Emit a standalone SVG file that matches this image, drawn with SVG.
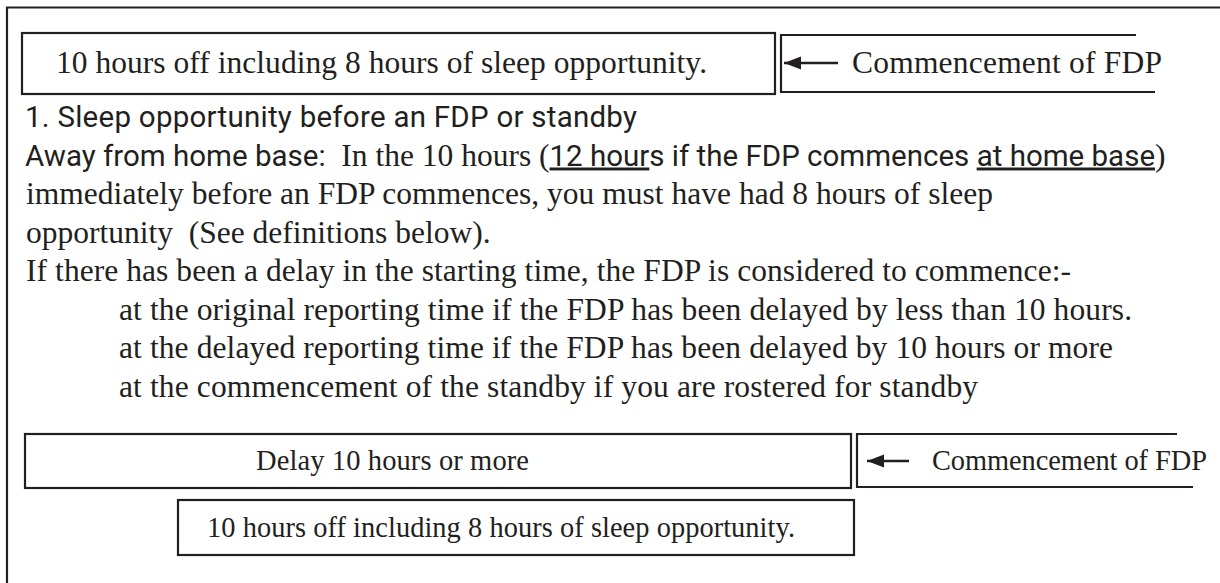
<svg xmlns="http://www.w3.org/2000/svg" width="1220" height="583" viewBox="0 0 1220 583">
<style>
.ln{stroke:#231f20;stroke-width:2.2;fill:none}
.box{stroke:#231f20;stroke-width:2.2;fill:#ffffff}
.arr{stroke:#231f20;stroke-width:2.6;fill:none}
.sf{font-family:"Liberation Serif","Times New Roman",serif;fill:#231f20}
.ss{font-family:Roboto,"Liberation Sans",sans-serif;fill:#231f20}
.p{font-size:31.5px}
.u{text-decoration:underline}
</style>
<defs>
<marker id="ah" markerWidth="18" markerHeight="14" refX="17" refY="7" orient="auto" markerUnits="userSpaceOnUse">
<path d="M0,0.5 L17,7 L0,13.5 Z" fill="#231f20"/>
</marker>
</defs>
<rect width="1220" height="583" fill="#ffffff"/>
<g id="frame">
<path class="ln" d="M7,583 V7.5 H1220"/>
</g>
<g id="box-top-rest">
<rect class="box" x="22" y="33" width="753" height="61"/>
<text class="sf" x="56" y="73" font-size="31.5" textLength="651">10 hours off including 8 hours of sleep opportunity.</text>
</g>
<g id="commence-top">
<path class="ln" d="M1136,35 H781 V92 H1155"/>
<text class="sf" x="852" y="73" font-size="31.5" textLength="310">Commencement of FDP</text>
</g>
<g id="paragraph">
<text class="ss" x="25" y="127" font-size="29.5" textLength="612">1. Sleep opportunity before an FDP or standby</text>
<text x="25" y="165.5" style="white-space:pre"><tspan class="ss" font-size="29.5">Away from home base:</tspan><tspan class="sf p">  In the 10 hours (</tspan><tspan class="ss u" font-size="29.5">12 hour</tspan><tspan class="ss" font-size="29.5">s if the FDP commences </tspan><tspan class="ss u" font-size="29.5">at home base</tspan><tspan class="sf p">)</tspan></text>
<text class="sf p" x="26" y="204" textLength="967">immediately before an FDP commences, you must have had 8 hours of sleep</text>
<text class="sf p" x="26" y="242.5" style="white-space:pre">opportunity  (See definitions below).</text>
<text class="sf p" x="26" y="281" textLength="1045">If there has been a delay in the starting time, the FDP is considered to commence:-</text>
<text class="sf p" x="119" y="319.5" textLength="1013">at the original reporting time if the FDP has been delayed by less than 10 hours.</text>
<text class="sf p" x="119" y="358" textLength="994">at the delayed reporting time if the FDP has been delayed by 10 hours or more</text>
<text class="sf p" x="119" y="396.5" textLength="859">at the commencement of the standby if you are rostered for standby</text>
</g>
<g id="box-delay">
<rect class="box" x="25" y="434" width="826" height="54"/>
<text class="sf" x="256" y="470" font-size="28.5" textLength="273">Delay 10 hours or more</text>
</g>
<g id="commence-bottom">
<path class="ln" d="M1177,434 H857 V487 H1193"/>
<text class="sf" x="932" y="470" font-size="28.4" textLength="275">Commencement of FDP</text>
</g>
<g id="box-rest-bottom">
<rect class="box" x="178" y="500" width="676" height="55"/>
<text class="sf" x="207" y="537" font-size="28.4" textLength="588">10 hours off including 8 hours of sleep opportunity.</text>
</g>
<g id="connectors">
<line class="arr" x1="838" y1="63" x2="784" y2="63" marker-end="url(#ah)"/>
<line class="arr" x1="909" y1="461" x2="867" y2="461" marker-end="url(#ah)"/>
</g>
</svg>
